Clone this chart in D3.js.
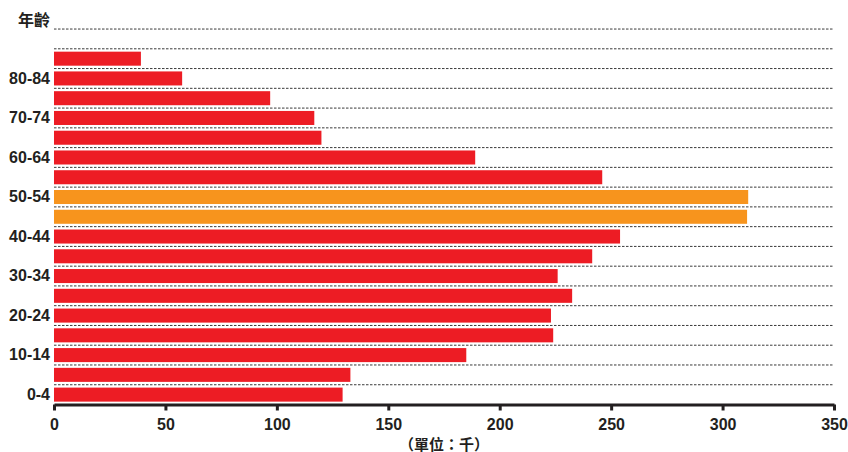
<!DOCTYPE html>
<html>
<head>
<meta charset="utf-8">
<script src="https://cdn.jsdelivr.net/npm/d3@7"></script>
<style>
  html, body { margin: 0; padding: 0; background: #fff; }
  svg { display: block; }
  text { font-family: "Liberation Sans", Arial, "Noto Sans CJK TC", sans-serif; font-weight: bold; fill: #231f20; }
  .cjk { font-family: "Noto Sans CJK TC", "Noto Sans CJK SC", sans-serif; }
</style>
</head>
<body>
<svg id="chart" width="848" height="452"></svg>
<script>
const ageGroups = ["0-4","5-9","10-14","15-19","20-24","25-29","30-34","35-39","40-44",
                   "45-49","50-54","55-59","60-64","65-69","70-74","75-79","80-84","85+"];
const population = [129.5, 133, 185, 224, 223, 232.5, 226, 241.5, 254,
                    311, 311.5, 246, 189, 120, 116.8, 97, 57.5, 39];
const highlighted = ["45-49", "50-54"];
const labelledGroups = ["0-4","10-14","20-24","30-34","40-44","50-54","60-64","70-74","80-84"];
const xTicks = [0, 50, 100, 150, 200, 250, 300, 350];
const yTitle = "年齡";
const xTitle = "（單位：千）";

const data = ageGroups.map((g, i) => ({ group: g, value: population[i] }));

const svg = d3.select("#chart");
const mLeft = 54, mRight = 834, mTop = 48.8, mBottom = 404.5;

const x = d3.scaleLinear().domain([0, 350]).range([mLeft, mRight]);
const y = d3.scaleBand()
  .domain([...ageGroups].reverse())
  .range([mTop, mBottom])
  .paddingInner(0.29)
  .paddingOuter(0.145);
const step = y.step();
const cellTop = d => y(d) - step * 0.145;

// gridlines (top of each cell plus one extra above)
const gridYs = [cellTop(ageGroups[ageGroups.length - 1]) - step].concat(ageGroups.map(cellTop));
svg.append("g").selectAll("line").data(gridYs).join("line")
  .attr("x1", mLeft).attr("x2", mRight)
  .attr("y1", d => d).attr("y2", d => d)
  .attr("stroke", "#3a3a3a").attr("stroke-width", 1)
  .attr("stroke-dasharray", "2.5,1.5");

// bars
svg.append("g").selectAll("rect").data(data).join("rect")
  .attr("x", x(0))
  .attr("y", d => y(d.group))
  .attr("width", d => x(d.value) - x(0))
  .attr("height", y.bandwidth())
  .attr("fill", d => highlighted.includes(d.group) ? "#f7941d" : "#ed1c24");

// y axis labels
const yAxis = svg.append("g").attr("transform", `translate(${mLeft},0)`)
  .call(d3.axisLeft(y).tickValues(labelledGroups).tickSize(0).tickPadding(4));
yAxis.select(".domain").remove();
yAxis.selectAll("text").attr("font-size", 16).attr("font-family", null).attr("fill", "#231f20");

// y title
svg.append("text").attr("class", "cjk")
  .attr("x", mLeft - 4).attr("y", gridYs[0] - step / 2)
  .attr("text-anchor", "end").attr("dominant-baseline", "central")
  .attr("font-size", 16).text(yTitle);

// x axis
const xAxis = svg.append("g").attr("transform", `translate(0,${mBottom})`)
  .call(d3.axisBottom(x).tickValues(xTicks).tickSize(6).tickSizeOuter(0).tickPadding(8.5));
xAxis.select(".domain").attr("stroke", "#231f20").attr("stroke-width", 3);
xAxis.selectAll(".tick line").attr("stroke", "#231f20").attr("stroke-width", 3);
xAxis.selectAll("text").attr("font-size", 16).attr("font-family", null).attr("fill", "#231f20");

// x title
svg.append("text").attr("class", "cjk")
  .attr("x", (mLeft + mRight) / 2).attr("y", 443)
  .attr("text-anchor", "middle").attr("dominant-baseline", "central")
  .attr("font-size", 15).text(xTitle);
</script>
</body>
</html>
